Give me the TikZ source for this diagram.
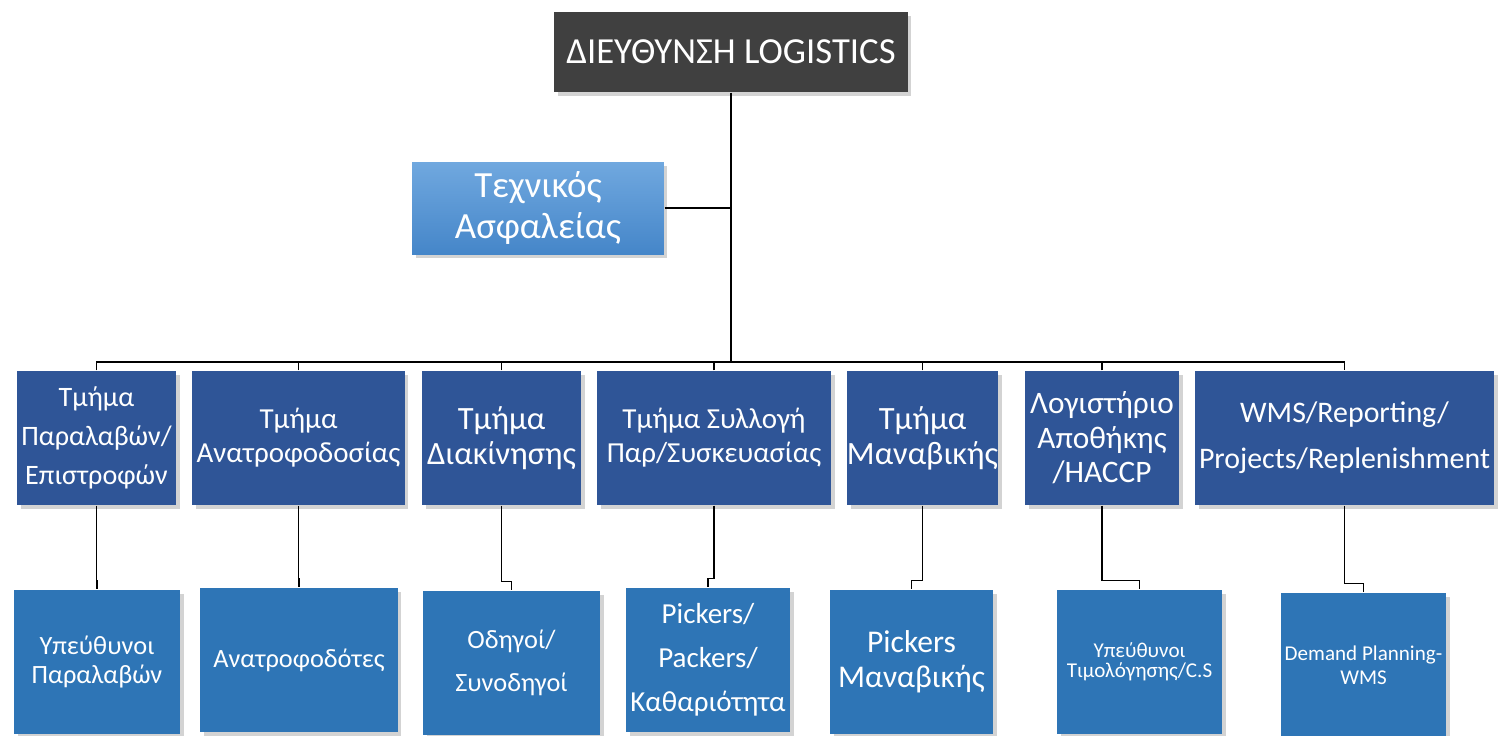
\documentclass[tikz,border=0pt]{standalone}
\usepackage{fontspec}
\setmainfont{Carlito}
\usetikzlibrary{calc,shadows}
\definecolor{dirgray}{HTML}{404040}
\definecolor{techtop}{HTML}{70A8DF}
\definecolor{techbot}{HTML}{4586C9}
\definecolor{deptblue}{HTML}{2F5597}
\definecolor{staffblue}{HTML}{2E75B6}
\begin{document}
\begin{tikzpicture}[x=0.02cm,y=-0.02cm,line width=0.8pt,
	box/.style={text=white,align=center,inner sep=0pt,drop shadow={shadow xshift=2pt,shadow yshift=-2pt,opacity=0.35}},
	dept/.style={box,fill=deptblue,minimum height=2.68cm},
	staff/.style={box,fill=staffblue,minimum height=2.88cm},
	fs/.style 2 args={font=\fontsize{#1}{#2}\selectfont},
	jog/.style={to path={|- ($(\tikztotarget)+(0,-9)$) -- (\tikztotarget)}}]
	\useasboundingbox (0,0) rectangle (1504,735);
	\node[box,fill=dirgray,minimum width=7.08cm,minimum height=1.6cm,fs={20.9}{24}] (dir) at (731,52) {ΔΙΕΥΘΥΝΣΗ LOGISTICS};
	\node[box,top color=techtop,bottom color=techbot,minimum width=5.04cm,minimum height=1.84cm,fs={21}{23}] (tech) at (538,208) {Τεχνικός\\Ασφαλείας};
	\node[dept,minimum width=3.18cm,fs={16}{22}] (recv) at (96.5,438) {Τμήμα\\Παραλαβών/\\Επιστροφών};
	\node[dept,minimum width=4.26cm,fs={16.5}{19.3}] (feed) at (298.5,438) {Τμήμα\\Ανατροφοδοσίας};
	\node[dept,minimum width=3.18cm,fs={18.5}{19.8}] (move) at (501.5,438) {Τμήμα\\Διακίνησης};
	\node[dept,minimum width=4.68cm,fs={16.5}{19.3}] (pick) at (714,438) {Τμήμα Συλλογή\\Παρ/Συσκευασίας};
	\node[dept,minimum width=3.02cm,fs={18.5}{19.8}] (veg) at (922.5,438) {Τμήμα\\Μαναβικής};
	\node[dept,minimum width=3.08cm,fs={17.8}{19.6}] (acct) at (1102,438) {Λογιστήριο\\Αποθήκης\\/HACCP};
	\node[dept,minimum width=5.98cm,fs={17}{26}] (wms) at (1344.5,438) {WMS/Reporting/\\Projects/Replenishment};
	\node[staff,minimum width=3.32cm,fs={15}{16.4}] (recvstaff) at (97,662) {Υπεύθυνοι\\Παραλαβών};
	\node[staff,minimum width=3.96cm,fs={15}{19}] (feedstaff) at (299,660) {Ανατροφοδότες};
	\node[staff,minimum width=3.54cm,fs={15}{24.4}] (drivers) at (511.5,663) {Οδηγοί/\\Συνοδηγοί};
	\node[staff,minimum width=3.28cm,fs={16.5}{25}] (pickers) at (708,660) {Pickers/\\Packers/\\Καθαριότητα};
	\node[staff,minimum width=3.26cm,fs={18}{19.8}] (vegstaff) at (911.5,662) {Pickers\\Μαναβικής};
	\node[staff,minimum width=3.3cm,fs={12}{11.3}] (billing) at (1139.5,662) {Υπεύθυνοι\\Τιμολόγησης/C.S};
	\node[staff,minimum width=3.3cm,fs={12}{13.6}] (plan) at (1363.5,665) {Demand Planning-\\WMS};
	\coordinate (bus) at (0,362);
	\draw (dir.south) -- (dir.south |- bus);
	\draw (tech.east) -- (tech.east -| dir.south);
	\draw (recv.north) -- (recv.north |- bus) -- (wms.north |- bus) -- (wms.north);
	\foreach \n in {feed,move,pick,veg,acct}
		\draw (\n.north) -- (\n.north |- bus);
	\draw (recv.south) to[jog] (recvstaff.north);
	\draw (feed.south) to[jog] (feedstaff.north);
	\draw (move.south) to[jog] (drivers.north);
	\draw (pick.south) to[jog] (pickers.north);
	\draw (veg.south) to[jog] (vegstaff.north);
	\draw (acct.south) to[jog] (billing.north);
	\draw (wms.south) to[jog] (plan.north);
\end{tikzpicture}
\end{document}
